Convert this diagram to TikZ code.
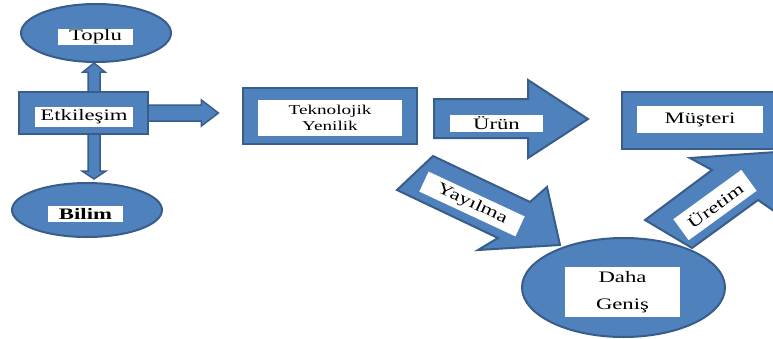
\documentclass[tikz,border=0pt]{standalone}
\usepackage{fontspec}
\setmainfont{Liberation Serif}[FakeStretch=1.42]
\usetikzlibrary{calc,shapes.geometric,backgrounds}
\definecolor{boxblue}{RGB}{79,129,189}
\definecolor{boxedge}{RGB}{56,93,138}

\begin{document}
\begin{tikzpicture}[x=1pt,y=-1pt,
    blk/.style={fill=boxblue,draw=boxedge,line width=2pt},
    brect/.style={rectangle,fill=boxblue,draw=boxedge,line width=2.8pt,inner sep=0pt},
    oval/.style={ellipse,fill=boxblue,draw=boxedge,line width=2pt,inner sep=0pt},
    lbl/.style={fill=white,inner sep=0pt,font=\fontsize{16}{18}\selectfont}]
  \useasboundingbox (0,0) rectangle (773,338);
  \clip (0,0) rectangle (773,338);

  % left group
  \node[oval,minimum width=150pt,minimum height=58pt] (toplu) at (96,33) {};
  \node[lbl,minimum width=75pt,minimum height=16pt] (toplu-t) at (95.5,37) {Toplu};
  \node[brect,minimum width=129pt,minimum height=42pt] (etk) at (83.5,113) {};
  \node[lbl,minimum width=98pt,minimum height=20pt] (etk-t) at (84,117) {Etkileşim};
  \node[oval,minimum width=150pt,minimum height=54pt] (bilim) at (87,210) {};
  \node[lbl,minimum width=75pt,minimum height=16pt,font=\fontsize{16}{18}\selectfont\bfseries] (bilim-t) at (85.5,214) {Bilim};

  \coordinate (uptip) at ([xshift=-2pt]toplu.south);
  \coordinate (dntip) at ($(bilim.north)+(7,-3)$);
  \coordinate (rttip) at ($(etk.east)+(69,0)$);
  \begin{scope}[on background layer]
    \draw[blk,line width=1.5pt] ($(uptip |- etk.north)+(-6,4)$) -- ($(uptip)+(-6,9)$) -- ($(uptip)+(-11,9)$)
      -- (uptip) -- ($(uptip)+(11,9)$) -- ($(uptip)+(6,9)$) -- ($(uptip |- etk.north)+(6,4)$) -- cycle;
    \draw[blk,line width=1.5pt] ($(dntip |- etk.south)+(-6,-4)$) -- ($(dntip)+(-6,-8)$) -- ($(dntip)+(-12,-8)$)
      -- (dntip) -- ($(dntip)+(12,-8)$) -- ($(dntip)+(6,-8)$) -- ($(dntip |- etk.south)+(6,-4)$) -- cycle;
    \draw[blk,line width=1.5pt] ($(etk.east)+(-4,-8)$) -- ($(rttip)+(-17,-8)$) -- ($(rttip)+(-17,-13)$)
      -- (rttip) -- ($(rttip)+(-17,13)$) -- ($(rttip)+(-17,8)$) -- ($(etk.east)+(-4,8)$) -- cycle;
  \end{scope}

  % middle and right
  \node[brect,minimum width=174pt,minimum height=56pt] (tek) at (330,116) {};
  \node[lbl,minimum width=144pt,minimum height=36pt,align=center,font=\fontsize{13.5}{15.5}\selectfont] (tek-t) at (330,118) {Teknolojik\\Yenilik};

  \draw[blk] (434,99) -- (528,99) -- (528,80) -- (588,119) -- (528,158) -- (528,138) -- (434,138) -- cycle;
  \node[lbl,minimum width=93pt,minimum height=17pt] (urun-t) at (496.5,123.5) {Ürün};

  \node[brect,minimum width=168pt,minimum height=57pt] (must) at (706,120.5) {};
  \node[lbl,minimum width=126pt,minimum height=27pt] (must-t) at (700,119.5) {Müşteri};

  \draw[blk] (433,156) -- (530,202) -- (547,187) -- (560,245) -- (478,250) -- (498,238) -- (397,190) -- cycle;
  \node[lbl,minimum width=106pt,minimum height=22pt,rotate=-25] (yay-t) at (472,204) {Yayılma};

  \node[oval,minimum width=203pt,minimum height=99pt] (daha) at (623.5,287.5) {};
  \node[lbl,minimum width=115pt,minimum height=50pt,align=center,font=\fontsize{16}{27}\selectfont] (daha-t) at (622.5,292) {Daha\\Geniş};

  \draw[blk] (645,220) -- (712,170) -- (690,158) -- (805,150) -- (790,222) -- (758,200) -- (692,248) -- cycle;
  \node[lbl,minimum width=84pt,minimum height=26pt,rotate=36] (uret-t) at (715,205) {Üretim};
\end{tikzpicture}
\end{document}
